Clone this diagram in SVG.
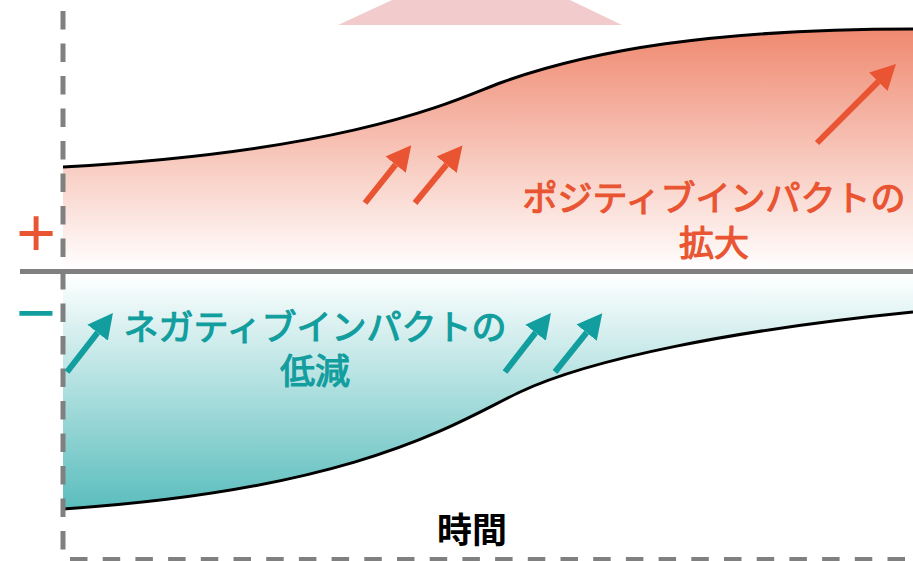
<svg xmlns="http://www.w3.org/2000/svg" width="913" height="561" viewBox="0 0 913 561">
  <defs>
    <linearGradient id="gradPos" gradientUnits="userSpaceOnUse" x1="0" y1="29" x2="0" y2="270">
      <stop offset="0" stop-color="#EF8970"/>
      <stop offset="1" stop-color="#FFFFFF"/>
    </linearGradient>
    <linearGradient id="gradNeg" gradientUnits="userSpaceOnUse" x1="0" y1="274" x2="0" y2="510">
      <stop offset="0" stop-color="#FFFFFF"/>
      <stop offset="1" stop-color="#5ABDBD"/>
    </linearGradient>
    <marker id="headRed" viewBox="0 -13 25 26" refX="0" refY="0" markerWidth="25" markerHeight="26" markerUnits="userSpaceOnUse" orient="auto">
      <path d="M0,-13 L25,0 L0,13 Z" fill="#E95532"/>
    </marker>
    <marker id="headTeal" viewBox="0 -13 25 26" refX="0" refY="0" markerWidth="25" markerHeight="26" markerUnits="userSpaceOnUse" orient="auto">
      <path d="M0,-13 L25,0 L0,13 Z" fill="#129E9E"/>
    </marker>
  </defs>
  <style>
    .axis { stroke: #808080; stroke-width: 5; fill: none; }
    .dash { stroke: #808080; fill: none; }
    .curve { stroke: #000000; stroke-width: 3; fill: none; }
    .arrRed { stroke: #E95532; stroke-width: 6; fill: none; marker-end: url(#headRed); }
    .arrTeal { stroke: #129E9E; stroke-width: 6; fill: none; marker-end: url(#headTeal); }
    .jp { font-family: "Noto Sans CJK JP", "Noto Sans CJK SC", sans-serif; font-size: 35px; text-anchor: middle; stroke-width: 1.2px; stroke-linejoin: round; }
    .red { fill: #E95532; stroke: #E95532; }
    .teal { fill: #129E9E; stroke: #129E9E; }
    .time { font-weight: bold; fill: #000000; stroke: none; }
    .sign { font-family: "Liberation Sans", Arial, sans-serif; font-size: 68px; text-anchor: middle; }
  </style>

  <g id="top-marker">
    <polygon points="392,0 570,0 622,25 338,25" fill="#F2CCCD"/>
  </g>

  <g id="positive-area">
    <path d="M63,167 C363,150 460,97.4 500,83 C590,50.6 713,29 913,29 L913,270 L63,270 Z" fill="url(#gradPos)"/>
    <path class="curve" d="M63,167 C363,150 460,97.4 500,83 C590,50.6 713,29 913,29"/>
  </g>

  <g id="negative-area">
    <path d="M63,509 C363,489 460,420.2 520,392 C590,359 733,330 913,312 L913,274 L63,274 Z" fill="url(#gradNeg)"/>
    <path class="curve" d="M63,509 C363,489 460,420.2 520,392 C590,359 733,330 913,312"/>
  </g>

  <g id="axes">
    <line class="axis" x1="20" y1="271.5" x2="913" y2="271.5"/>
    <line class="dash" x1="63" y1="11" x2="63" y2="551" stroke-width="5" stroke-dasharray="18.5 14"/>
    <line class="dash" x1="70" y1="559" x2="913" y2="559" stroke-width="4" stroke-dasharray="17.5 15.2"/>
  </g>

  <g id="connectors">
    <line class="arrRed" x1="365" y1="203" x2="395.6" y2="164.7"/>
    <line class="arrRed" x1="415" y1="203" x2="446.6" y2="164.7"/>
    <line class="arrRed" x1="817" y1="143" x2="878.3" y2="81.7"/>
    <line class="arrTeal" x1="67" y1="372" x2="97.6" y2="332.7"/>
    <line class="arrTeal" x1="505" y1="372" x2="535.6" y2="332.7"/>
    <line class="arrTeal" x1="555" y1="372" x2="586.6" y2="332.7"/>
  </g>

  <g id="label-plus">
    <text class="sign" x="36" y="256" fill="#E95532">+</text>
  </g>
  <g id="label-minus">
    <text class="sign" x="36" y="336" fill="#129E9E">−</text>
  </g>

  <g id="label-positive">
    <text class="jp red" x="714" y="211">ポジティブインパクトの</text>
    <text class="jp red" x="714" y="256">拡大</text>
  </g>

  <g id="label-negative">
    <text class="jp teal" x="315" y="340">ネガティブインパクトの</text>
    <text class="jp teal" x="315" y="384">低減</text>
  </g>

  <g id="label-time">
    <text class="jp time" x="472" y="543">時間</text>
  </g>
</svg>
